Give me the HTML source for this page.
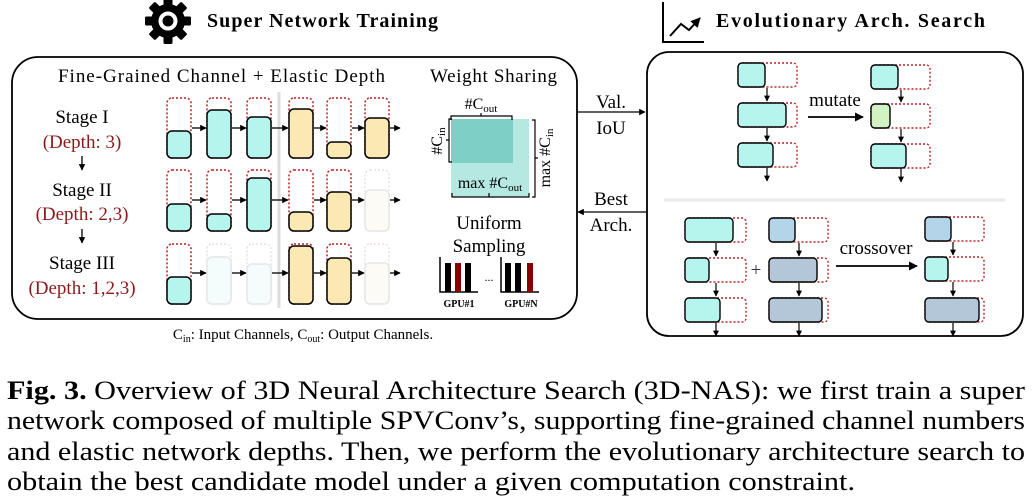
<!DOCTYPE html>
<html><head><meta charset="utf-8"><style>
body{margin:0;background:#fff}
svg{display:block}
text{font-family:"Liberation Serif",serif;fill:#000}
</style></head><body>
<svg width="1036" height="502" viewBox="0 0 1036 502" xmlns="http://www.w3.org/2000/svg">
<defs>
<marker id="ah" viewBox="0 0 10 10" refX="9" refY="5" markerWidth="5" markerHeight="5" orient="auto"><path d="M0,0L10,5L0,10z" fill="#000"/></marker>
</defs>
<g transform="translate(168,21)">
<g fill="#000">
<circle r="17"/>
<rect x="-4.5" y="-23" width="9" height="46" rx="1.5"/>
<rect x="-4.5" y="-23" width="9" height="46" rx="1.5" transform="rotate(45)"/>
<rect x="-4.5" y="-23" width="9" height="46" rx="1.5" transform="rotate(90)"/>
<rect x="-4.5" y="-23" width="9" height="46" rx="1.5" transform="rotate(135)"/>
</g>
<circle r="7.5" fill="none" stroke="#fff" stroke-width="4"/>
</g>
<text x="207" y="27" font-size="20" font-weight="bold" textLength="231" lengthAdjust="spacing">Super Network Training</text>
<path d="M663,2 V42 H704" fill="none" stroke="#000" stroke-width="2"/>
<path d="M670,36 L681,24 L689,30 L700,18" fill="none" stroke="#000" stroke-width="2" marker-end="url(#ah)"/>
<text x="716" y="27" font-size="20" font-weight="bold" textLength="269" lengthAdjust="spacing">Evolutionary Arch. Search</text>

<rect x="12" y="57" width="565" height="262" rx="26" fill="none" stroke="#000" stroke-width="1.8"/>
<text x="58" y="82" font-size="19" textLength="327" lengthAdjust="spacing">Fine-Grained Channel + Elastic Depth</text>
<text x="430" y="82" font-size="19" textLength="127" lengthAdjust="spacing">Weight Sharing</text>
<g font-size="19" text-anchor="middle">
<text x="82" y="123">Stage I</text>
<text x="82" y="148" style="fill:#8b1a1a">(Depth: 3)</text>
<text x="82" y="196">Stage II</text>
<text x="82" y="220" style="fill:#8b1a1a">(Depth: 2,3)</text>
<text x="82" y="269">Stage III</text>
<text x="82" y="294" style="fill:#8b1a1a">(Depth: 1,2,3)</text>
</g>
<line x1="82" y1="156" x2="82" y2="170" stroke="#000" stroke-width="1.3" marker-end="url(#ah)"/>
<line x1="82" y1="229" x2="82" y2="243" stroke="#000" stroke-width="1.3" marker-end="url(#ah)"/>
<line x1="279" y1="92" x2="279" y2="308" stroke="#ddd" stroke-width="3"/>

<g stroke-width="1.5">
<g stroke="#b22" fill="none" stroke-dasharray="2,2">
<rect x="167" y="98" width="24" height="60" rx="5"/><rect x="207" y="98" width="24" height="60" rx="5"/><rect x="247" y="98" width="24" height="60" rx="5"/>
<rect x="289" y="98" width="24" height="60" rx="5"/><rect x="327" y="98" width="24" height="60" rx="5"/><rect x="365" y="98" width="24" height="60" rx="5"/>
<rect x="167" y="170" width="24" height="61" rx="5"/><rect x="207" y="170" width="24" height="61" rx="5"/><rect x="247" y="170" width="24" height="61" rx="5"/>
<rect x="289" y="170" width="24" height="61" rx="5"/><rect x="327" y="170" width="24" height="61" rx="5"/>
<rect x="167" y="244" width="24" height="60" rx="5"/>
<rect x="289" y="244" width="24" height="60" rx="5"/><rect x="327" y="244" width="24" height="60" rx="5"/>
</g>
<g stroke="#f0dede" fill="none" stroke-dasharray="2,2">
<rect x="365" y="170" width="24" height="61" rx="5"/>
<rect x="207" y="244" width="24" height="60" rx="5"/><rect x="247" y="244" width="24" height="60" rx="5"/><rect x="365" y="244" width="24" height="60" rx="5"/>
</g>
<g stroke="#000">
<rect x="167" y="131" width="24" height="27" rx="5" fill="#b6f5ee"/>
<rect x="207" y="110" width="24" height="48" rx="5" fill="#b6f5ee"/>
<rect x="247" y="117" width="24" height="41" rx="5" fill="#b6f5ee"/>
<rect x="289" y="109" width="24" height="49" rx="5" fill="#fce8b2"/>
<rect x="327" y="142" width="24" height="16" rx="5" fill="#fce8b2"/>
<rect x="365" y="118" width="24" height="40" rx="5" fill="#fce8b2"/>
<rect x="167" y="204" width="24" height="27" rx="5" fill="#b6f5ee"/>
<rect x="207" y="214" width="24" height="17" rx="5" fill="#b6f5ee"/>
<rect x="247" y="178" width="24" height="53" rx="5" fill="#b6f5ee"/>
<rect x="289" y="212" width="24" height="19" rx="5" fill="#fce8b2"/>
<rect x="327" y="192" width="24" height="39" rx="5" fill="#fce8b2"/>
<rect x="167" y="277" width="24" height="27" rx="5" fill="#b6f5ee"/>
<rect x="289" y="246" width="24" height="58" rx="5" fill="#fce8b2"/>
<rect x="327" y="258" width="24" height="46" rx="5" fill="#fce8b2"/>
</g>
<g stroke="#e6e6e6">
<rect x="365" y="190" width="24" height="41" rx="5" fill="#fdfbf5"/>
<rect x="207" y="257" width="24" height="47" rx="5" fill="#f5fdfc"/>
<rect x="247" y="264" width="24" height="40" rx="5" fill="#f5fdfc"/>
<rect x="365" y="263" width="24" height="41" rx="5" fill="#fdfbf5"/>
</g>
<g stroke="#000" stroke-width="1.3">
<line x1="192" y1="128" x2="206" y2="128" marker-end="url(#ah)"/><line x1="232" y1="128" x2="246" y2="128" marker-end="url(#ah)"/><line x1="272" y1="128" x2="288" y2="128" marker-end="url(#ah)"/><line x1="314" y1="128" x2="326" y2="128" marker-end="url(#ah)"/><line x1="352" y1="128" x2="364" y2="128" marker-end="url(#ah)"/><line x1="390" y1="128" x2="400" y2="128" marker-end="url(#ah)"/>
<line x1="192" y1="200" x2="206" y2="200" marker-end="url(#ah)"/><line x1="232" y1="200" x2="246" y2="200" marker-end="url(#ah)"/><line x1="272" y1="200" x2="288" y2="200" marker-end="url(#ah)"/><line x1="314" y1="200" x2="326" y2="200" marker-end="url(#ah)"/><line x1="352" y1="200" x2="364" y2="200" marker-end="url(#ah)"/><line x1="390" y1="200" x2="400" y2="200" marker-end="url(#ah)"/>
<line x1="192" y1="273" x2="206" y2="273" marker-end="url(#ah)"/><line x1="232" y1="273" x2="246" y2="273" marker-end="url(#ah)"/><line x1="272" y1="273" x2="288" y2="273" marker-end="url(#ah)"/><line x1="314" y1="273" x2="326" y2="273" marker-end="url(#ah)"/><line x1="352" y1="273" x2="364" y2="273" marker-end="url(#ah)"/><line x1="390" y1="273" x2="400" y2="273" marker-end="url(#ah)"/>
</g>
</g>

<rect x="451" y="119" width="78" height="78" fill="#b5e8e1"/>
<rect x="451" y="119" width="62" height="44" fill="#7ecfc5"/>
<g fill="none" stroke="#000" stroke-width="1.2">
<path d="M451,120 V116 H512 V120 M481,116 V113"/>
<path d="M452,119 H449 V162 H452 M449,140 H446"/>
<path d="M532,120 H535 V197 H532 M535,158 H538"/>
<path d="M452,193 V197 H529 V193 M489,197 V193"/>
</g>
<text x="481" y="109" font-size="16" text-anchor="middle">#C<tspan font-size="11" dy="3">out</tspan></text>
<text transform="translate(442,141) rotate(-90)" font-size="16" text-anchor="middle">#C<tspan font-size="11" dy="3">in</tspan></text>
<text transform="translate(550,158) rotate(-90)" font-size="16" text-anchor="middle">max #C<tspan font-size="11" dy="3">in</tspan></text>
<text x="490" y="188" font-size="16" text-anchor="middle">max #C<tspan font-size="11" dy="3">out</tspan></text>
<text x="489" y="229" font-size="19" text-anchor="middle">Uniform</text>
<text x="489" y="252" font-size="19" text-anchor="middle">Sampling</text>
<g>
<path d="M440,257 V292 H478" fill="none" stroke="#000" stroke-width="1.5"/>
<rect x="445" y="263" width="6" height="29" fill="#000"/><rect x="455" y="263" width="6" height="29" fill="#8b0000"/><rect x="465" y="263" width="6" height="29" fill="#000"/>
<path d="M501,257 V292 H539" fill="none" stroke="#000" stroke-width="1.5"/>
<rect x="505" y="263" width="6" height="29" fill="#000"/><rect x="515" y="263" width="6" height="29" fill="#000"/><rect x="527" y="263" width="6" height="29" fill="#8b0000"/>
<text x="489" y="281" font-size="12" text-anchor="middle">...</text>
<text x="459" y="307" font-size="10" font-weight="bold" text-anchor="middle">GPU#1</text>
<text x="521" y="307" font-size="10" font-weight="bold" text-anchor="middle">GPU#N</text>
</g>
<text x="303" y="339" font-size="15" text-anchor="middle">C<tspan font-size="10" dy="3">in</tspan><tspan dy="-3">: Input Channels, C</tspan><tspan font-size="10" dy="3">out</tspan><tspan dy="-3">: Output Channels.</tspan></text>

<text x="611" y="108" font-size="19" text-anchor="middle">Val.</text>
<text x="611" y="134" font-size="19" text-anchor="middle">IoU</text>
<line x1="577" y1="112" x2="645" y2="112" stroke="#000" stroke-width="1.3" marker-end="url(#ah)"/>
<text x="611" y="205" font-size="19" text-anchor="middle">Best</text>
<text x="611" y="231" font-size="19" text-anchor="middle">Arch.</text>
<line x1="646" y1="212" x2="578" y2="212" stroke="#000" stroke-width="1.3" marker-end="url(#ah)"/>

<rect x="647" y="52" width="376" height="284" rx="22" fill="none" stroke="#000" stroke-width="1.8"/>
<line x1="664" y1="200" x2="1005" y2="200" stroke="#e8e8e8" stroke-width="3"/>
<g stroke-width="1.4">
<g fill="none" stroke="#b22" stroke-dasharray="2,2">
<rect x="738" y="63" width="59" height="24" rx="4"/><rect x="738" y="103" width="59" height="24" rx="4"/><rect x="738" y="143" width="59" height="24" rx="4"/>
<rect x="871" y="65" width="59" height="24" rx="4"/><rect x="871" y="104" width="59" height="24" rx="4"/><rect x="871" y="144" width="59" height="24" rx="4"/>
<rect x="685" y="218" width="61" height="24" rx="4"/><rect x="685" y="258" width="61" height="24" rx="4"/><rect x="685" y="298" width="61" height="24" rx="4"/>
<rect x="769" y="218" width="59" height="24" rx="4"/><rect x="769" y="258" width="59" height="24" rx="4"/><rect x="769" y="298" width="59" height="24" rx="4"/>
<rect x="925" y="217" width="59" height="24" rx="4"/><rect x="925" y="257" width="59" height="24" rx="4"/><rect x="925" y="298" width="59" height="24" rx="4"/>
</g>
<g stroke="#000">
<rect x="738" y="63" width="27" height="24" rx="4" fill="#b6f5ee"/><rect x="738" y="103" width="48" height="24" rx="4" fill="#b6f5ee"/><rect x="738" y="143" width="35" height="24" rx="4" fill="#b6f5ee"/>
<rect x="871" y="65" width="27" height="24" rx="4" fill="#b6f5ee"/><rect x="871" y="104" width="19" height="24" rx="4" fill="#d3f2c4"/><rect x="871" y="144" width="35" height="24" rx="4" fill="#b6f5ee"/>
<rect x="685" y="218" width="48" height="24" rx="4" fill="#b6f5ee"/><rect x="685" y="258" width="24" height="24" rx="4" fill="#b6f5ee"/><rect x="685" y="298" width="35" height="24" rx="4" fill="#b6f5ee"/>
<rect x="769" y="218" width="26" height="24" rx="4" fill="#b4d4ea"/><rect x="769" y="258" width="48" height="24" rx="4" fill="#b3c7d8"/><rect x="769" y="298" width="53" height="24" rx="4" fill="#b3c7d8"/>
<rect x="925" y="217" width="26" height="24" rx="4" fill="#b4d4ea"/><rect x="925" y="257" width="23" height="24" rx="4" fill="#b6f5ee"/><rect x="925" y="298" width="54" height="24" rx="4" fill="#b3c7d8"/>
</g>
<g stroke="#000" stroke-width="1.2">
<line x1="767" y1="88" x2="767" y2="101" marker-end="url(#ah)"/><line x1="767" y1="128" x2="767" y2="141" marker-end="url(#ah)"/><line x1="767" y1="168" x2="767" y2="181" marker-end="url(#ah)"/>
<line x1="901" y1="90" x2="901" y2="102" marker-end="url(#ah)"/><line x1="901" y1="129" x2="901" y2="142" marker-end="url(#ah)"/><line x1="901" y1="169" x2="901" y2="182" marker-end="url(#ah)"/>
<line x1="716" y1="243" x2="716" y2="256" marker-end="url(#ah)"/><line x1="716" y1="283" x2="716" y2="296" marker-end="url(#ah)"/><line x1="716" y1="323" x2="716" y2="336" marker-end="url(#ah)"/>
<line x1="799" y1="243" x2="799" y2="256" marker-end="url(#ah)"/><line x1="799" y1="283" x2="799" y2="296" marker-end="url(#ah)"/><line x1="799" y1="323" x2="799" y2="336" marker-end="url(#ah)"/>
<line x1="953" y1="242" x2="953" y2="255" marker-end="url(#ah)"/><line x1="953" y1="282" x2="953" y2="296" marker-end="url(#ah)"/><line x1="953" y1="323" x2="953" y2="336" marker-end="url(#ah)"/>
</g>
</g>
<text x="835" y="106" font-size="19" text-anchor="middle">mutate</text>
<line x1="808" y1="117" x2="863" y2="117" stroke="#000" stroke-width="1.8" marker-end="url(#ah)"/>
<text x="756" y="276" font-size="19" text-anchor="middle" style="fill:#334">+</text>
<text x="876" y="254" font-size="19" text-anchor="middle">crossover</text>
<line x1="836" y1="266" x2="917" y2="266" stroke="#000" stroke-width="1.8" marker-end="url(#ah)"/>

<g font-size="26">
<text x="7" y="399" textLength="1018" lengthAdjust="spacingAndGlyphs"><tspan font-weight="bold">Fig. 3.</tspan> Overview of 3D Neural Architecture Search (3D-NAS): we first train a super</text>
<text x="7" y="429" textLength="1018" lengthAdjust="spacingAndGlyphs">network composed of multiple SPVConv’s, supporting fine-grained channel numbers</text>
<text x="7" y="460" textLength="1018" lengthAdjust="spacingAndGlyphs">and elastic network depths. Then, we perform the evolutionary architecture search to</text>
<text x="7" y="490" textLength="848" lengthAdjust="spacingAndGlyphs">obtain the best candidate model under a given computation constraint.</text>
</g>
</svg>
</body></html>
